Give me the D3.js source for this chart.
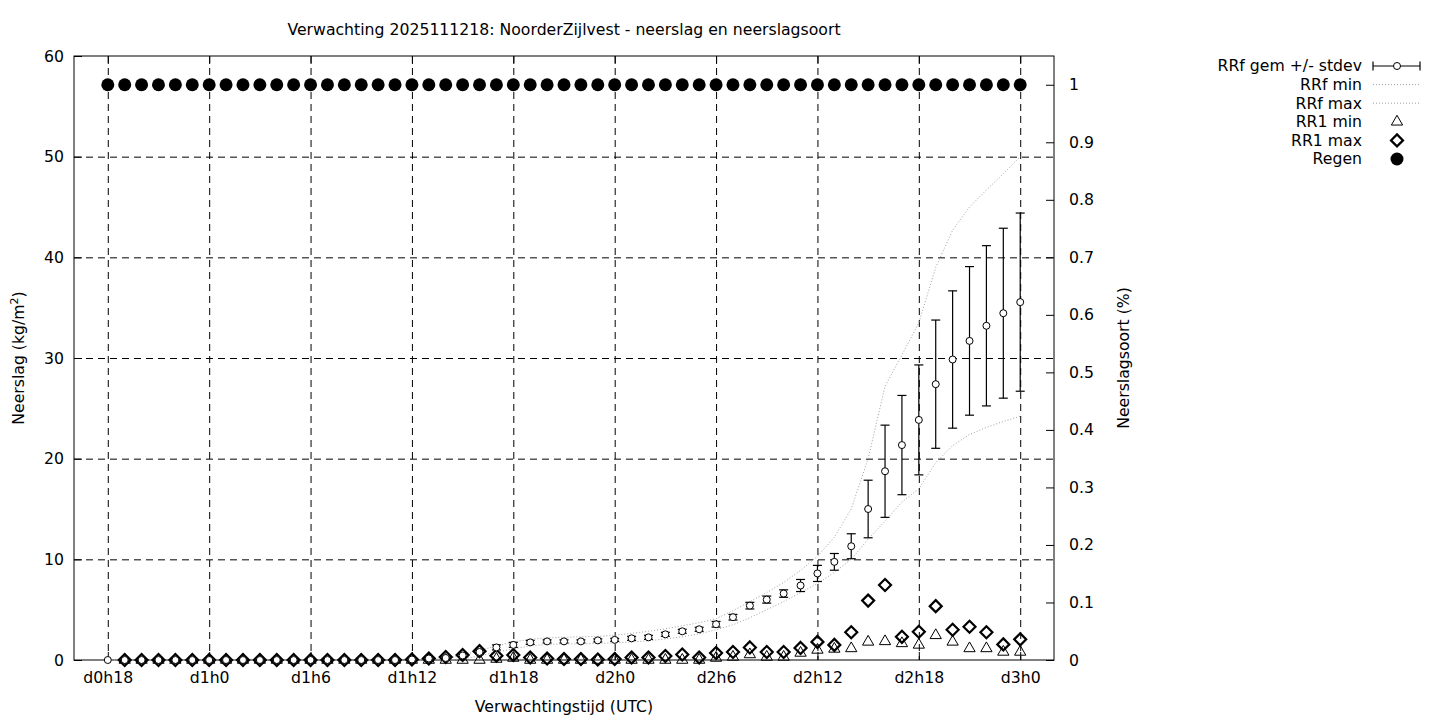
<!DOCTYPE html>
<html>
<head>
<meta charset="utf-8">
<script src="https://cdn.jsdelivr.net/npm/d3@7"></script>
<style>
  body { margin: 0; background: #fff; }
  text { font-family: "DejaVu Sans", sans-serif; fill: #000; }
  .grid line { stroke: #000; stroke-dasharray: 7,5; }
  .grid path { display: none; }
  .axis path { display: none; }
  .axis line { stroke: #000; }
</style>
</head>
<body>
<div id="chart"></div>
<script>
// forecast hours (relative to d0h0)
const hours = [18,19,20,21,22,23,24,25,26,27,28,29,30,31,32,33,34,35,36,37,38,39,40,41,42,43,44,45,
  46,47,48,49,50,51,52,53,54,55,56,57,58,59,60,61,62,63,64,65,66,67,68,69,70,71,72];

// RRf gemiddelde en stdev (kg/m2)
const rrfMean = [0,0,0,0,0,0,0,0,0,0,0,0,0,0,0,0,0,0,0.05,0.15,0.2,0.45,0.8,1.25,1.5,1.75,1.85,1.85,
  1.85,1.95,2.0,2.15,2.25,2.55,2.85,3.05,3.55,4.25,5.4,6.0,6.6,7.4,8.6,9.75,11.3,15.0,18.75,21.35,23.85,27.4,29.85,31.7,33.2,34.45,35.55];
const rrfStdev = [0,0,0,0,0,0,0,0,0,0,0,0,0,0,0,0,0,0,0,0.05,0.1,0.15,0.2,0.25,0.25,0.2,0.15,0.15,
  0.15,0.15,0.15,0.2,0.2,0.2,0.2,0.2,0.28,0.28,0.33,0.35,0.37,0.6,0.8,0.83,1.24,2.86,4.58,4.93,5.46,6.37,6.82,7.38,7.96,8.44,8.85];
const rrfMin = [0,0,0,0,0,0,0,0,0,0,0,0,0,0,0,0,0,0,0,0,0,0.1,0.4,0.8,1.1,1.4,1.55,1.6,
  1.6,1.65,1.7,1.8,1.9,2.1,2.3,2.6,3.0,3.5,4.2,5.0,5.8,6.7,7.6,8.7,10.0,12.0,13.8,15.7,17.0,19.6,21.3,22.4,23.1,23.7,24.2];
const rrfMax = [0,0,0,0,0,0,0,0,0,0,0,0,0,0,0,0,0,0,0,0,0.15,0.45,0.95,1.4,1.8,2.05,2.2,2.25,
  2.3,2.35,2.45,2.65,2.85,3.1,3.4,3.7,4.1,4.9,5.8,6.7,7.7,8.9,10.3,12.2,15.0,20.0,27.2,30.3,33.5,39.0,42.7,45.0,46.7,48.3,50.0];

// RR1 (uursom) min / max, from hour 19
const rr1Hours = hours.slice(1);
const rr1Min = [0,0,0,0,0,0,0,0,0,0,0,0,0,0,0,0,0,0,0,0,0,0,0.1,0.2,0,0,0,0,
  0,0,0,0,0,0,0,0.2,0.3,0.55,0.3,0.3,0.7,1.0,1.1,1.15,1.8,1.85,1.65,1.5,2.45,1.8,1.15,1.15,0.8,0.8];
const rr1Max = [0,0,0,0,0,0,0,0,0,0,0,0,0,0,0,0,0,0.05,0.15,0.3,0.5,0.88,0.42,0.5,0.25,0.15,0.1,
  0.1,0.05,0.1,0.25,0.25,0.4,0.55,0.25,0.7,0.8,1.25,0.8,0.8,1.2,1.8,1.5,2.75,5.9,7.45,2.3,2.8,5.35,3.0,3.3,2.75,1.55,2.05];

// neerslagsoort regen (fractie)
const regen = [1,1,1,1,1,1,1,1,1,1,1,1,1,1,1,1,1,1,1,1,1,1,1,1,1,1,1,1,
  1,1,1,1,1,1,1,1,1,1,1,1,1,1,1,1,1,1,1,1,1,1,1,1,1,1,1];

const xTicks = [18,24,30,36,42,48,54,60,66,72];
const xTickLabels = ["d0h18","d1h0","d1h6","d1h12","d1h18","d2h0","d2h6","d2h12","d2h18","d3h0"];
const yTicks = [0,10,20,30,40,50,60];
const y2Ticks = [0,0.1,0.2,0.3,0.4,0.5,0.6,0.7,0.8,0.9,1];

const legendLabels = ["RRf gem +/- stdev","RRf min","RRf max","RR1 min","RR1 max","Regen"];

const fontSize = "15.7px";

const margin = {top: 56, right: 386, bottom: 60, left: 74},
  width = 1440 - margin.left - margin.right,
  height = 720 - margin.top - margin.bottom;

const svg = d3.select("#chart").append("svg")
  .attr("width", 1440)
  .attr("height", 720);

const g = svg.append("g")
  .attr("transform", `translate(${margin.left},${margin.top})`);

// scales
const x = d3.scaleLinear().domain([16, 74]).range([0, width]);
const y = d3.scaleLinear().domain([0, 60]).range([height, 0]);
const y2 = d3.scaleLinear().domain([0, 1.05]).range([height, 0]);

// grid
g.append("g").attr("class", "grid")
  .call(d3.axisBottom(x).tickValues(xTicks).tickSize(height).tickFormat(""));
g.append("g").attr("class", "grid")
  .call(d3.axisLeft(y).tickValues(yTicks.slice(1, -1)).tickSize(-width).tickFormat(""));

// axes, ticks pointing inward like gnuplot
g.append("g").attr("class", "axis")
  .attr("transform", `translate(0,${height})`)
  .call(d3.axisBottom(x).tickValues(xTicks).tickSize(-8).tickPadding(12)
    .tickFormat((d, i) => xTickLabels[i]))
  .selectAll("text").style("font-size", fontSize);
g.append("g").attr("class", "axis")
  .call(d3.axisTop(x).tickValues(xTicks).tickSize(-8).tickFormat(""));
g.append("g").attr("class", "axis")
  .call(d3.axisLeft(y).tickValues(yTicks).tickSize(-8).tickPadding(10))
  .selectAll("text").style("font-size", fontSize);
g.append("g").attr("class", "axis")
  .attr("transform", `translate(${width},0)`)
  .call(d3.axisRight(y2).tickValues(y2Ticks).tickSize(-8).tickPadding(15).tickFormat(d3.format("~g")))
  .selectAll("text").style("font-size", fontSize);

// border
g.append("rect")
  .attr("width", width).attr("height", height)
  .attr("fill", "none").attr("stroke", "#000");

// RRf min / max dotted lines
const line = d3.line().x((d, i) => x(hours[i])).y(d => y(d));
[rrfMin, rrfMax].forEach(function (s) {
  g.append("path")
    .datum(s)
    .attr("d", line)
    .attr("fill", "none")
    .attr("stroke", "#a0a0a0")
    .attr("stroke-width", 1)
    .attr("stroke-dasharray", "1,2");
});

// errorbars
const eb = g.append("g").attr("class", "errorbars");
hours.forEach(function (h, i) {
  const lo = y(rrfMean[i] - rrfStdev[i]), hi = y(rrfMean[i] + rrfStdev[i]);
  if (hi < lo - 0.5) {
    eb.append("line").attr("x1", x(h)).attr("x2", x(h)).attr("y1", lo).attr("y2", hi)
      .attr("stroke", "#000").attr("stroke-width", 1.2);
    [lo, hi].forEach(function (yy) {
      eb.append("line").attr("x1", x(h) - 4.5).attr("x2", x(h) + 4.5).attr("y1", yy).attr("y2", yy)
        .attr("stroke", "#000").attr("stroke-width", 1.2);
    });
  }
});

// symbols
function triangle(r) {
  return `M0,${-r}L${0.866 * r},${0.5 * r}L${-0.866 * r},${0.5 * r}Z`;
}
function diamond(r) {
  return `M0,${-r}L${r},0L0,${r}L${-r},0Z`;
}

g.append("g").selectAll("path")
  .data(rr1Min)
  .join("path")
  .attr("transform", (d, i) => `translate(${x(rr1Hours[i])},${y(d)})`)
  .attr("d", triangle(6.5))
  .attr("fill", "none").attr("stroke", "#000").attr("stroke-width", 1);

g.append("g").selectAll("path")
  .data(rr1Max)
  .join("path")
  .attr("transform", (d, i) => `translate(${x(rr1Hours[i])},${y(d)})`)
  .attr("d", diamond(6))
  .attr("fill", "none").attr("stroke", "#000").attr("stroke-width", 2.2);

g.append("g").selectAll("circle")
  .data(rrfMean)
  .join("circle")
  .attr("cx", (d, i) => x(hours[i]))
  .attr("cy", d => y(d))
  .attr("r", 3.5)
  .attr("fill", "#fff").attr("stroke", "#000").attr("stroke-width", 1);

g.append("g").selectAll("circle")
  .data(regen)
  .join("circle")
  .attr("cx", (d, i) => x(hours[i]))
  .attr("cy", d => y2(d))
  .attr("r", 6.5)
  .attr("fill", "#000");

// titles
svg.append("text")
  .attr("x", 564).attr("y", 35)
  .attr("text-anchor", "middle").style("font-size", fontSize)
  .text("Verwachting 2025111218: NoorderZijlvest - neerslag en neerslagsoort");

svg.append("text")
  .attr("x", 564).attr("y", 712)
  .attr("text-anchor", "middle").style("font-size", fontSize)
  .text("Verwachtingstijd (UTC)");

const yl = svg.append("text")
  .attr("transform", "translate(24,358) rotate(-90)")
  .attr("text-anchor", "middle").style("font-size", fontSize);
yl.append("tspan").text("Neerslag (kg/m");
yl.append("tspan").attr("dy", -6).style("font-size", "11px").text("2");
yl.append("tspan").attr("dy", 6).text(")");

svg.append("text")
  .attr("transform", "translate(1129,358) rotate(-90)")
  .attr("text-anchor", "middle").style("font-size", fontSize)
  .text("Neerslagsoort (%)");

// legend
const legend = svg.append("g").attr("class", "legend");
legendLabels.forEach(function (lab, i) {
  const ly = 66 + i * 18.6;
  legend.append("text")
    .attr("x", 1362).attr("y", ly).attr("dy", "0.35em")
    .attr("text-anchor", "end").style("font-size", fontSize)
    .text(lab);
  const sx = 1397;
  if (i === 0) {
    legend.append("line").attr("x1", 1373).attr("x2", 1420).attr("y1", ly).attr("y2", ly)
      .attr("stroke", "#000").attr("stroke-width", 1.2);
    [1373, 1420].forEach(function (xx) {
      legend.append("line").attr("x1", xx).attr("x2", xx).attr("y1", ly - 4.5).attr("y2", ly + 4.5)
        .attr("stroke", "#000").attr("stroke-width", 1.2);
    });
    legend.append("circle").attr("cx", sx).attr("cy", ly).attr("r", 3.5)
      .attr("fill", "#fff").attr("stroke", "#000");
  } else if (i < 3) {
    legend.append("line").attr("x1", 1373).attr("x2", 1420).attr("y1", ly).attr("y2", ly)
      .attr("stroke", "#a0a0a0").attr("stroke-dasharray", "1,2");
  } else if (i === 3) {
    legend.append("path").attr("transform", `translate(${sx},${ly})`).attr("d", triangle(6.5))
      .attr("fill", "none").attr("stroke", "#000");
  } else if (i === 4) {
    legend.append("path").attr("transform", `translate(${sx},${ly})`).attr("d", diamond(6))
      .attr("fill", "none").attr("stroke", "#000").attr("stroke-width", 2.2);
  } else {
    legend.append("circle").attr("cx", sx).attr("cy", ly).attr("r", 6.5).attr("fill", "#000");
  }
});
</script>
</body>
</html>
